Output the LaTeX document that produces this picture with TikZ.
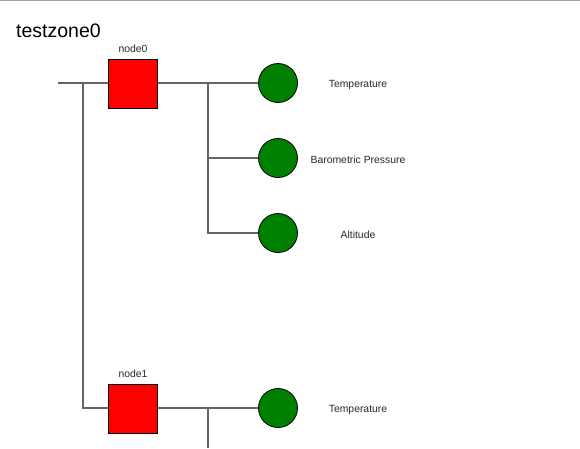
\documentclass[tikz,border=0pt]{standalone}
\usepackage{fontspec}
\setmainfont{Liberation Sans}
\definecolor{wire}{RGB}{100,100,100}
\definecolor{topline}{RGB}{160,160,160}
\definecolor{sensorgreen}{RGB}{0,128,0}
\definecolor{txt}{RGB}{40,40,40}
\begin{document}
\begin{tikzpicture}[x=1pt,y=-1pt,
  nodebox/.style={draw=black,fill=red,minimum size=49pt,inner sep=0pt,line width=0.8pt},
  sensor/.style={circle,draw=black,fill=sensorgreen,minimum size=39pt,inner sep=0pt,line width=0.8pt},
  wireline/.style={draw=wire,line width=1.3pt},
  small/.style={font=\fontsize{10.4}{12}\selectfont,text=txt,inner sep=0pt},
  title/.style={font=\fontsize{19.5}{22}\selectfont,anchor=base west,inner sep=0pt}]
\useasboundingbox (0,0) rectangle (580,448);
\draw[topline,line width=1pt] (0,0.5) -- (580,0.5);
\node[title] (t) at (16,37) {testzone0};
% zone nodes
\node[nodebox] (n0) at (133,83.5) {};
\node[small] (n0l) at (133,49) {node0};
\node[nodebox] (n1) at (133,408.5) {};
\node[small] (n1l) at (133,374) {node1};
% sensors
\node[sensor] (c00) at (278,83) {};
\node[sensor] (c01) at (278,158) {};
\node[sensor] (c02) at (278,233) {};
\node[sensor] (c10) at (278,408) {};
\node[small] (s00) at (358,84.5) {Temperature};
\node[small] (s01) at (358,159.5) {Barometric Pressure};
\node[small] (s02) at (358,234.5) {Altitude};
\node[small] (s10) at (358,409.5) {Temperature};
% wiring
\coordinate (in) at (58,83);
\coordinate (j0) at (83,83);
\coordinate (b0) at (208,83);
\coordinate (b1) at (208,408);
\coordinate (bot) at (208,448);
\draw[wireline] (in) -- (n0.west |- in);
\draw[wireline] (j0) |- (n1.west |- b1);
\draw[wireline] (n0.east |- b0) -- (c00);
\draw[wireline] (b0) |- (c01);
\draw[wireline] (b0) |- (c02);
\draw[wireline] (n1.east |- b1) -- (c10);
\draw[wireline] (b1) -- (bot);
\end{tikzpicture}
\end{document}
